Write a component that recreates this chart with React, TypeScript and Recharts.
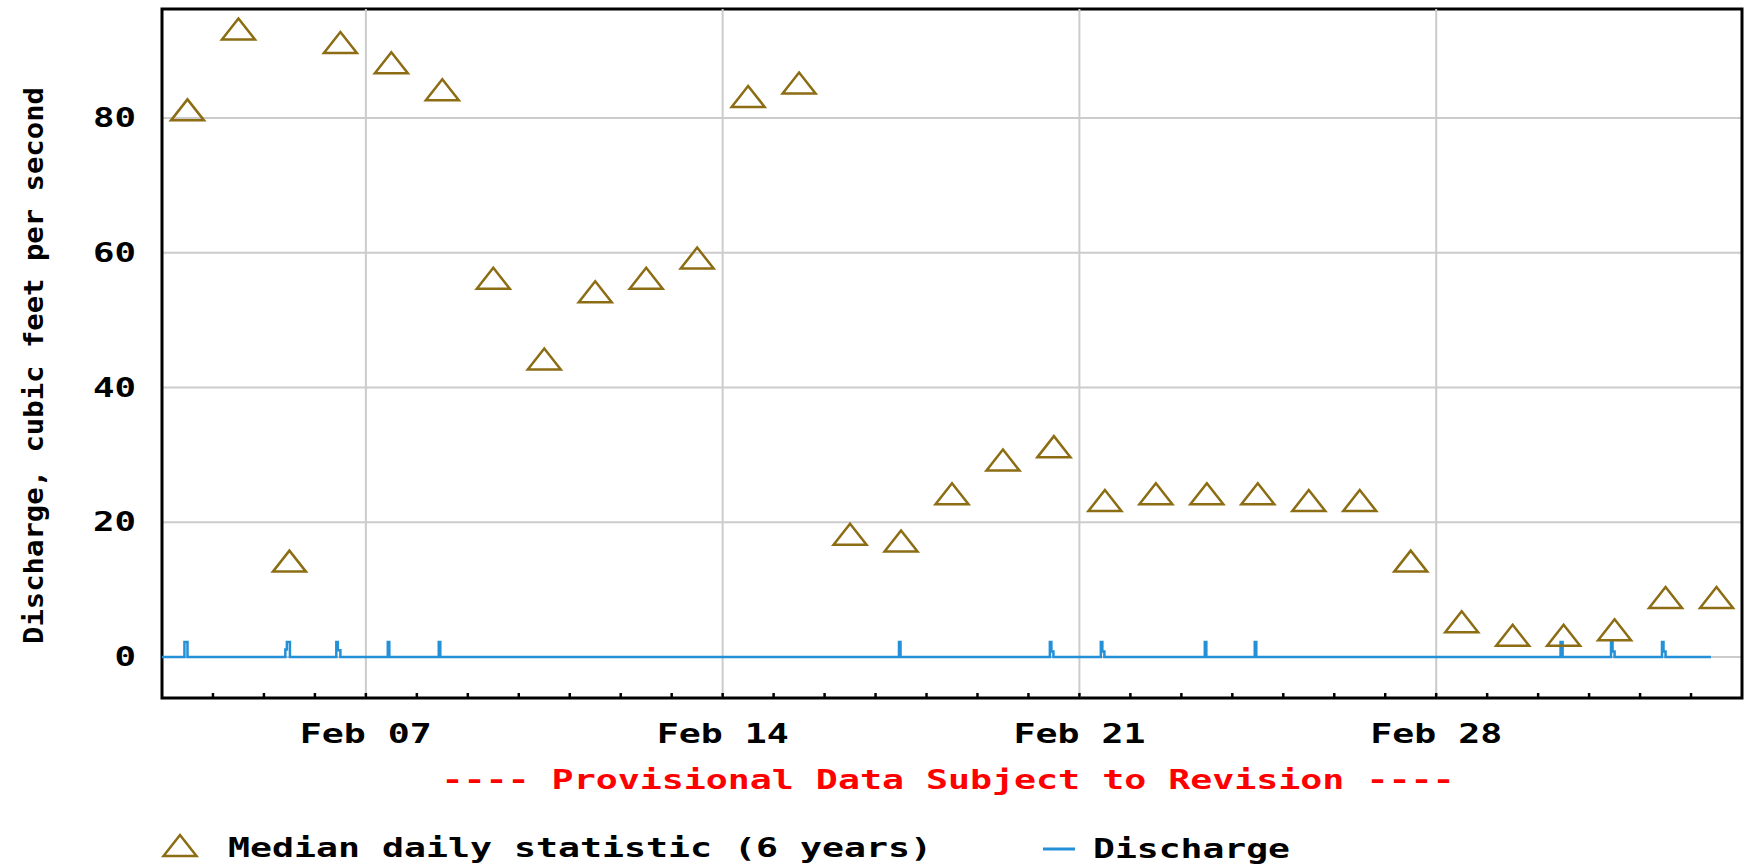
import React from "react"
import {
  ComposedChart,
  XAxis,
  YAxis,
  CartesianGrid,
  Scatter,
  Line,
  ReferenceLine,
  ReferenceArea,
} from "recharts"

// days counted from Feb 03 00:00
const medianDays = [
  0.5, 1.5, 2.5, 3.5, 4.5, 5.5, 6.5, 7.5, 8.5, 9.5, 10.5, 11.5, 12.5, 13.5, 14.5, 15.5,
  16.5, 17.5, 18.5, 19.5, 20.5, 21.5, 22.5, 23.5, 24.5, 25.5, 26.5, 27.5, 28.5, 29.5, 30.5,
]
const medianValues = [
  81, 93, 14, 91, 88, 84, 56, 44, 54, 56, 59, 83, 85, 18, 17, 24,
  29, 31, 23, 24, 24, 24, 23, 23, 14, 5, 3, 3, 3.8, 8.6, 8.6,
]

const dischargeTimes = [
  0, 0.44, 0.5, 2.42, 2.45, 2.51, 3.42, 3.45, 3.5, 4.43, 4.46, 5.43, 5.46,
  14.46, 14.49, 17.42, 17.45, 17.49, 18.42, 18.45, 18.49, 20.46, 20.49, 21.44, 21.47,
  27.44, 27.48, 28.43, 28.46, 28.5, 29.43, 29.46, 29.5, 30.39,
]
const dischargeValues = [
  0, 2.2, 0, 1.1, 2.2, 0, 2.2, 1.0, 0, 2.2, 0, 2.2, 0,
  2.2, 0, 2.2, 0.8, 0, 2.2, 0.8, 0, 2.2, 0, 2.2, 0,
  2.2, 0, 2.2, 0.8, 0, 2.2, 0.8, 0, 0,
]

const minorTickDays = [
  1, 2, 3, 4, 5, 6, 7, 8, 9, 10, 11, 12, 13, 14, 15, 16, 17, 18, 19, 20,
  21, 22, 23, 24, 25, 26, 27, 28, 29, 30,
]
const labeledDays = [4, 11, 18, 25]
const dayLabelText = ["Feb 07", "Feb 14", "Feb 21", "Feb 28"]
const yTicks = [0, 20, 40, 60, 80]

const medianRows = medianDays.map((t, i) => ({ t, median: medianValues[i] }))
const dischargeRows = dischargeTimes.map((t, i) => ({ t, q: dischargeValues[i] }))

const FONT = "'DejaVu Sans Mono', 'Liberation Mono', monospace"
const TRI_COLOR = "#8c6d14"
const BLUE = "#2490d8"
const GRID = "#cccccc"
const Y_MIN = -6.1
const Y_MAX = 96.2

const PixText = ({ x, y, len, anchor = "start", fill = "#000", size = 26, transform, children }: any) => (
  <text
    x={x}
    y={y}
    textLength={len}
    lengthAdjust="spacingAndGlyphs"
    fontFamily={FONT}
    fontWeight="bold"
    fontSize={size}
    fill={fill}
    textAnchor={anchor}
    transform={transform}
  >
    {children}
  </text>
)

// hollow triangle marker, drawn a touch above its centre like the original
const triPath = (cx: number, cy: number) =>
  `M${cx - 16.5},${cy + 9} L${cx},${cy - 12} L${cx + 16.5},${cy + 9} Z`

const renderTriangle = (props: any) => {
  const { cx, cy } = props
  if (cx == null || cy == null) return <g />
  return <path d={triPath(cx, cy)} fill="none" stroke={TRI_COLOR} strokeWidth={2.5} />
}

// bottom axis: inward day tick, plus a date label on the weekly days
const renderBottomTick = (props: any) => {
  const { x, y, payload } = props
  const idx = labeledDays.indexOf(payload.value)
  return (
    <g>
      <line x1={x} x2={x} y1={y} y2={y - 5} stroke="#000" strokeWidth={2.5} />
      {idx >= 0 && (
        <PixText x={x} y={y + 45} len={132} anchor="middle">
          {dayLabelText[idx]}
        </PixText>
      )}
    </g>
  )
}

const renderTopTick = (props: any) => {
  const { x, y } = props
  return <line x1={x} x2={x} y1={y} y2={y + 5} stroke="#000" strokeWidth={2.5} />
}

const renderYTick = (props: any) => {
  const { x, y, payload } = props
  const s = String(payload.value)
  return (
    <PixText x={x} y={y + 9} len={s.length * 21.5} anchor="end">
      {s}
    </PixText>
  )
}

export default function App() {
  return (
    <div style={{ position: "absolute", left: 0, top: 0, width: 1750, height: 868, background: "#fff" }}>
      <ComposedChart width={1750} height={868} margin={{ top: 9, right: 8, left: 0, bottom: 0 }}>
        <CartesianGrid vertical={false} stroke={GRID} strokeWidth={2} />
        <XAxis
          dataKey="t"
          type="number"
          domain={[0, 31]}
          ticks={minorTickDays}
          interval={0}
          allowDataOverflow
          height={170}
          tickSize={0}
          tickMargin={0}
          axisLine={false}
          tickLine={false}
          tick={renderBottomTick}
        />
        <XAxis
          xAxisId="top"
          orientation="top"
          type="number"
          domain={[0, 31]}
          ticks={minorTickDays}
          interval={0}
          allowDataOverflow
          height={0}
          tickSize={0}
          tickMargin={0}
          axisLine={false}
          tickLine={false}
          tick={renderTopTick}
        />
        <YAxis
          type="number"
          domain={[Y_MIN, Y_MAX]}
          ticks={yTicks}
          allowDataOverflow
          width={162}
          tickSize={0}
          tickMargin={26}
          axisLine={false}
          tickLine={false}
          tick={renderYTick}
        />
        {labeledDays.map((d) => (
          <ReferenceLine key={d} x={d} stroke={GRID} strokeWidth={2} />
        ))}
        <Scatter data={medianRows} dataKey="median" shape={renderTriangle} isAnimationActive={false} />
        <Line
          data={dischargeRows}
          dataKey="q"
          type="stepAfter"
          stroke={BLUE}
          strokeWidth={2.5}
          dot={false}
          activeDot={false}
          isAnimationActive={false}
        />
        <ReferenceArea x1={0} x2={31} y1={Y_MIN} y2={Y_MAX} fill="none" stroke="#000" strokeWidth={3} />
      </ComposedChart>

      <svg
        width={1750}
        height={868}
        style={{ position: "absolute", left: 0, top: 0, pointerEvents: "none" }}
      >
        <PixText x={0} y={0} len={557} anchor="middle" transform="translate(43,365.5) rotate(-90)">
          Discharge, cubic feet per second
        </PixText>
        <PixText x={948} y={789} len={1013} anchor="middle" fill="#ff0000">
          ---- Provisional Data Subject to Revision ----
        </PixText>
        <path d={triPath(180, 847)} fill="none" stroke={TRI_COLOR} strokeWidth={2.5} />
        <PixText x={228} y={857} len={704}>
          Median daily statistic (6 years)
        </PixText>
        <line x1={1043} x2={1075} y1={849} y2={849} stroke={BLUE} strokeWidth={3} />
        <PixText x={1093} y={858} len={197}>
          Discharge
        </PixText>
      </svg>
    </div>
  )
}
